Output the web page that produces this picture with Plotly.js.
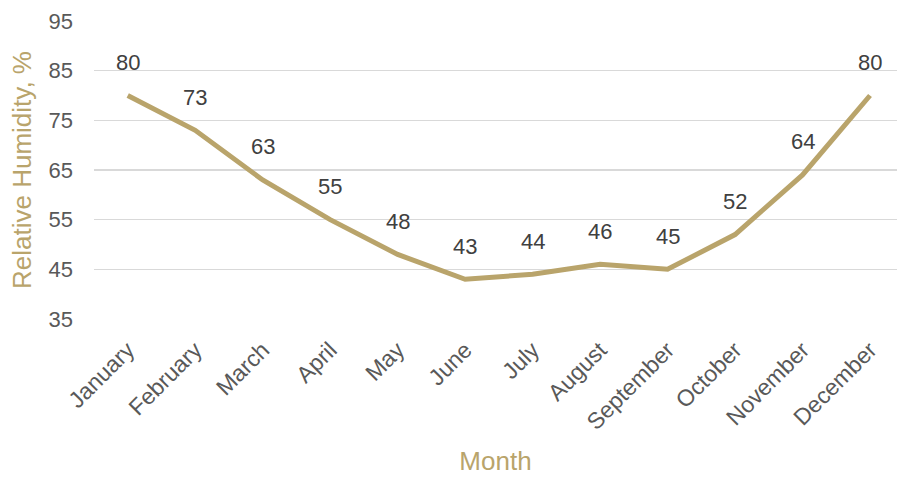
<!DOCTYPE html>
<html><head><meta charset="utf-8">
<script src="https://cdn.plot.ly/plotly-3.0.1.min.js"></script>
<style>html,body{margin:0;padding:0;background:#fff}#c{width:897px;height:477px}</style>
</head><body><div id="c"></div>
<script>
const months = ["January","February","March","April","May","June","July","August","September","October","November","December"];
const humidity = [80,73,63,55,48,43,44,46,45,52,64,80];
const yTicks = [35,45,55,65,75,85,95];

const gold = "#B9A46B";
const font = "Liberation Sans, Arial, sans-serif";

const trace = {
  x: months, y: humidity, type: "scatter", mode: "lines",
  line: {color: gold, width: 5},
  hoverinfo: "skip"
};
const annotations = months.map((m, i) => ({
  x: m, y: humidity[i], xref: "x", yref: "y",
  text: String(humidity[i]), showarrow: false,
  yshift: 33, font: {family: font, size: 22, color: "#404040"}
}));

Plotly.newPlot("c", [trace], {
  width: 897, height: 477,
  margin: {l: 94, r: 0, t: 21, b: 158},
  paper_bgcolor: "#fff", plot_bgcolor: "#fff",
  showlegend: false,
  font: {family: font, color: "#595959", size: 22},
  xaxis: {
    type: "category", range: [-0.5, 11.4],
    tickangle: -45, showgrid: false, zeroline: false, showline: false,
    ticks: "", tickfont: {size: 23, color: "#595959"}, ticklabelstandoff: 12,
    title: {text: "Month", font: {size: 26, color: gold}, standoff: 18}
  },
  yaxis: {
    range: [35, 95], tickvals: yTicks, showgrid: true, gridcolor: "#D9D9D9", gridwidth: 1.5,
    zeroline: false, showline: false, ticks: "",
    tickfont: {size: 22, color: "#595959"}, ticklabelstandoff: 20,
    title: {text: "Relative Humidity, %", font: {size: 26, color: gold}, standoff: 9}
  },
  annotations: annotations
}, {displayModeBar: false, staticPlot: true});
</script></body></html>
